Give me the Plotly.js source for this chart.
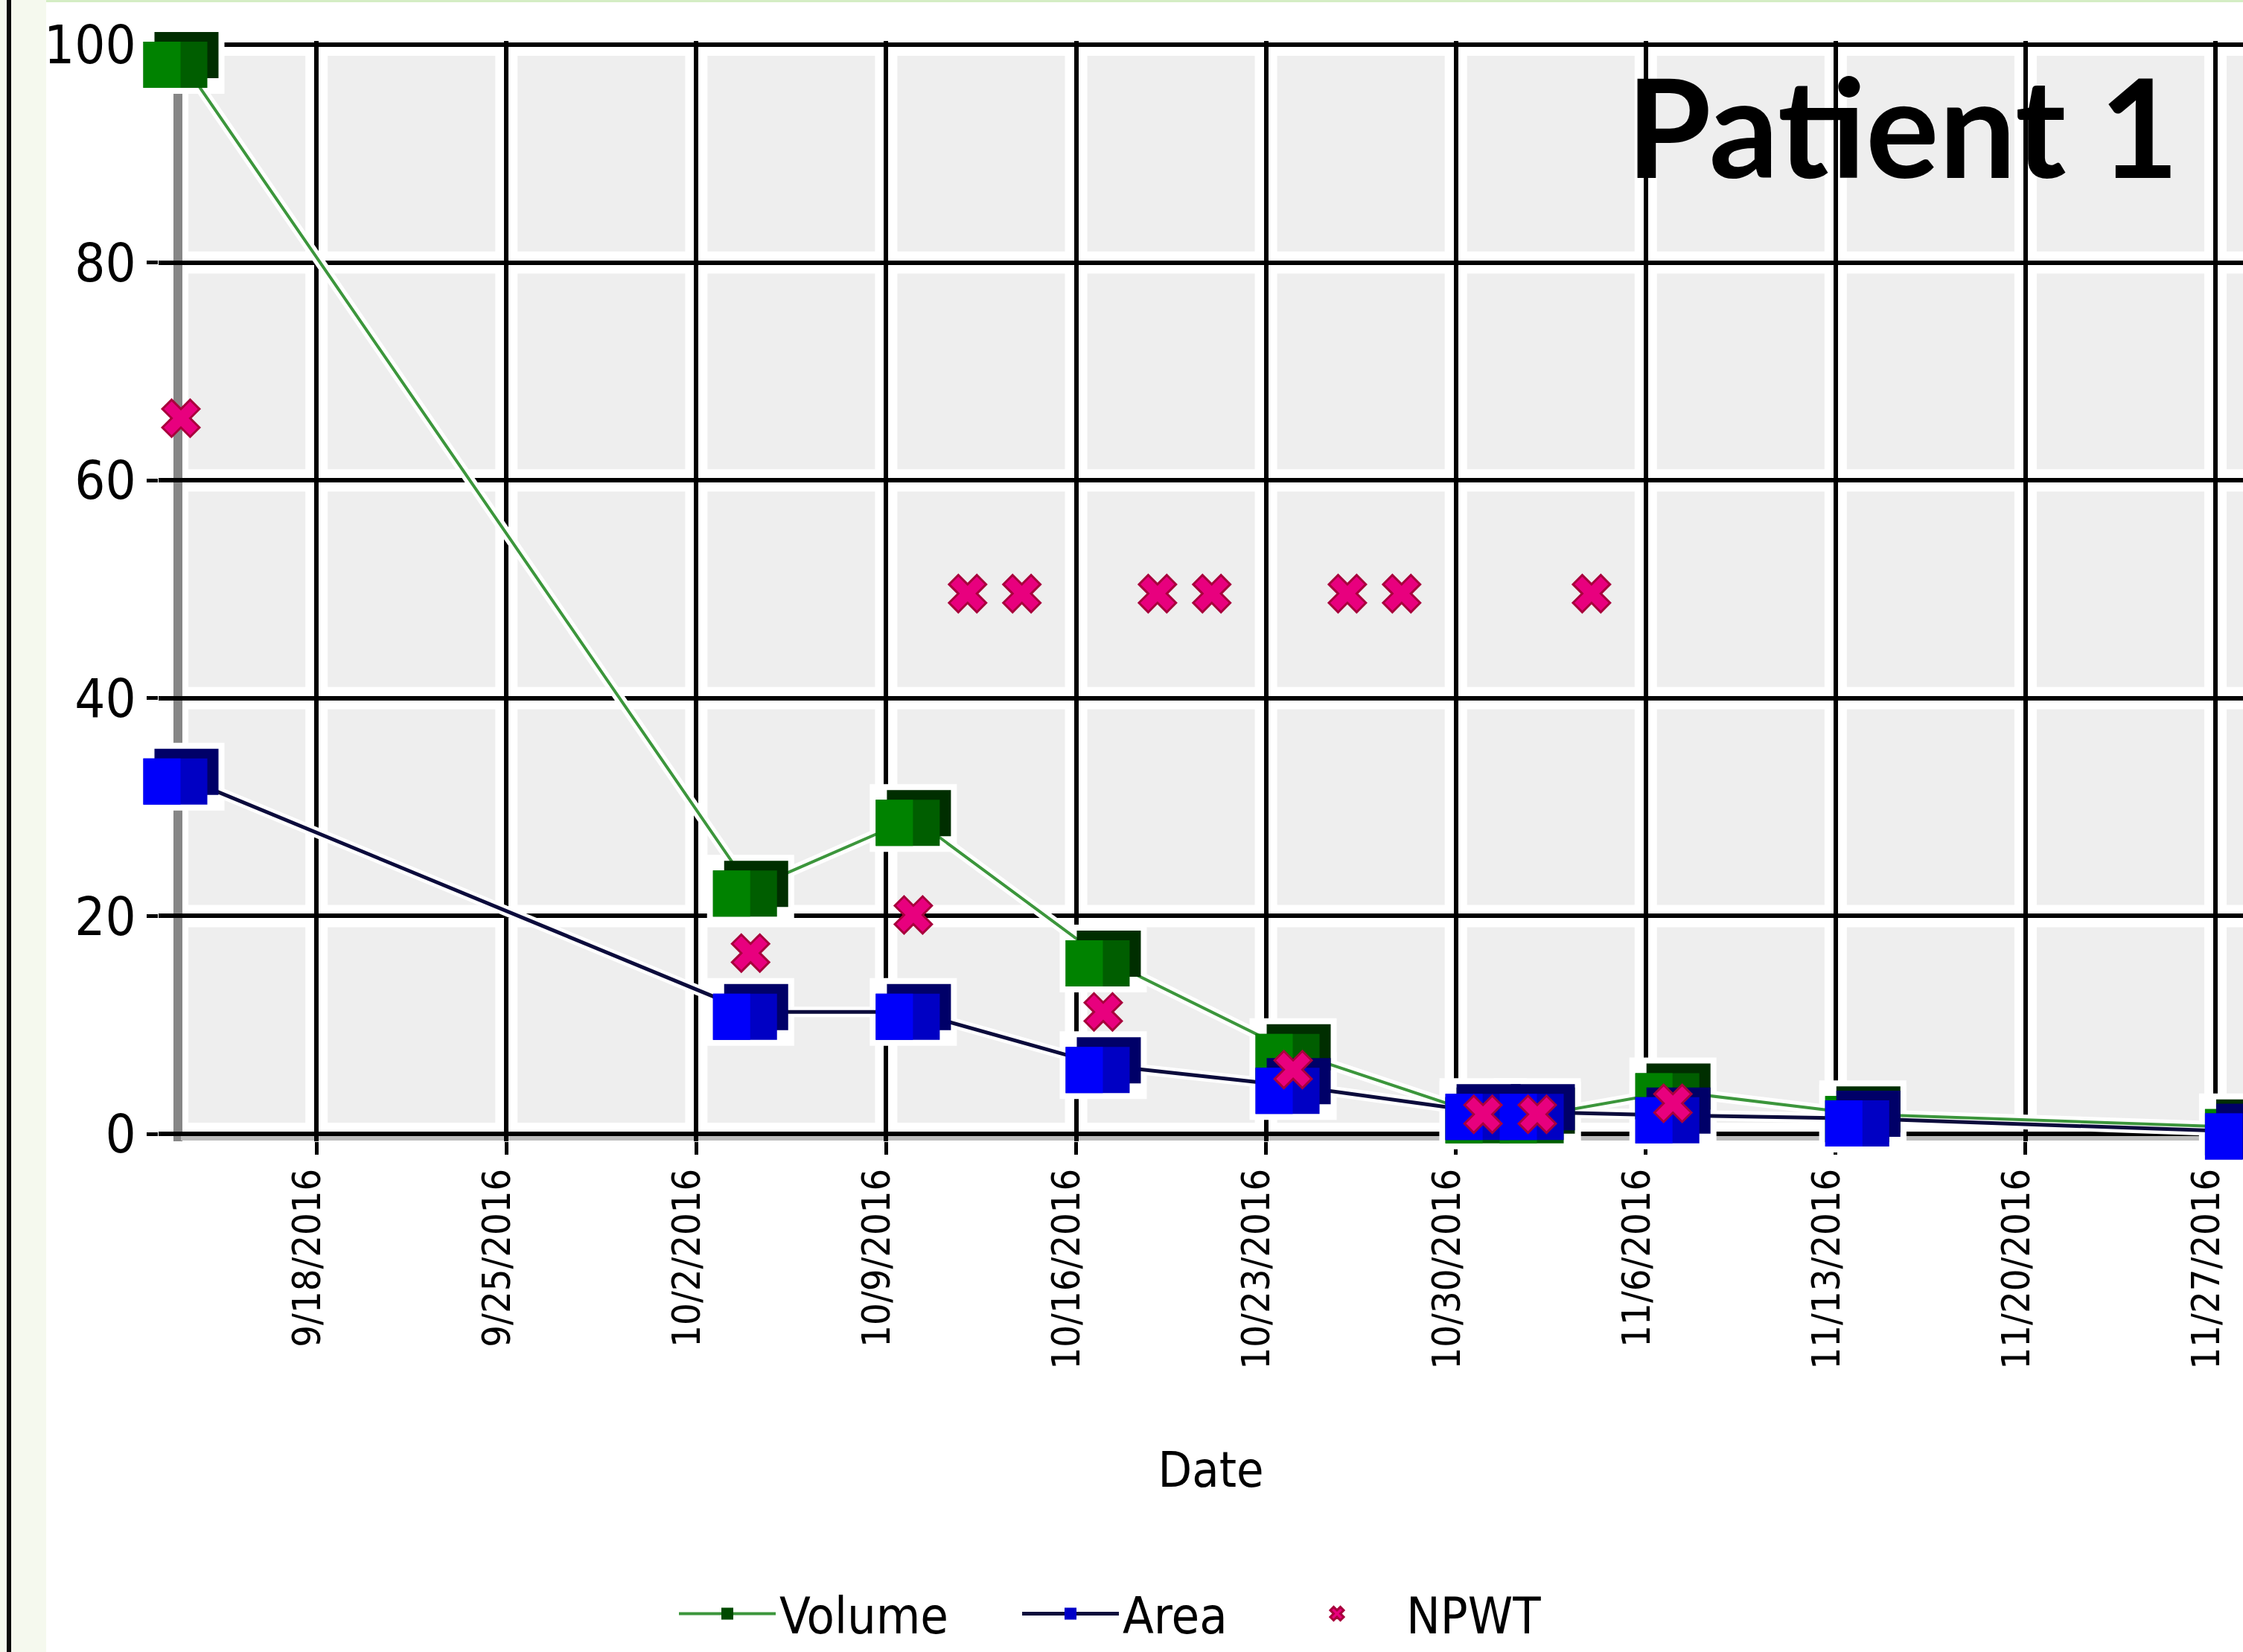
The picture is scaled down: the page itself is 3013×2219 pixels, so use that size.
<!DOCTYPE html>
<html>
<head>
<meta charset="utf-8">
<script src="https://cdn.plot.ly/plotly-3.0.1.min.js"></script>
<style>
html,body{margin:0;padding:0;background:#ffffff;overflow:hidden;width:3013px;height:2219px;}
#deco-left{position:absolute;left:0;top:0;width:62px;height:2219px;background:#F5F9EE;}
#deco-line{position:absolute;left:9px;top:0;width:6px;height:2219px;background:#0a0a0a;}
#deco-top{position:absolute;left:62px;top:0;width:2951px;height:3px;background:#D4EDC4;}
#chart{position:absolute;left:0;top:0;width:3040px;height:2219px;}
</style>
</head>
<body>
<div id="deco-left"></div><div id="deco-line"></div><div id="deco-top"></div>
<div id="chart"></div>
<script>
// ---------------- data ----------------
const measureDates = ['2016-09-13','2016-10-04','2016-10-10','2016-10-17','2016-10-24','2016-10-31','2016-11-02','2016-11-07','2016-11-14','2016-11-28'];
const volume = [98.6, 22.5, 29.0, 16.1, 7.5, 1.7, 1.7, 3.9, 1.8, 0.6];
const area   = [32.8, 11.2, 11.2, 6.3, 4.4, 2.0, 2.0, 1.7, 1.4, 0.2];
const npwtDates = ['2016-09-13','2016-10-04','2016-10-10','2016-10-12','2016-10-14','2016-10-17','2016-10-19','2016-10-21','2016-10-24','2016-10-26','2016-10-28','2016-10-31','2016-11-02','2016-11-04','2016-11-07'];
const npwt = [65.7, 16.6, 20.1, 49.6, 49.6, 11.2, 49.6, 49.6, 5.9, 49.6, 49.6, 1.8, 1.8, 49.6, 2.8];
const yTicks = [0, 20, 40, 60, 80, 100];
const seriesNames = ['Volume', 'Area', 'NPWT'];
const chartTitle = 'Patient 1';
const xTitle = 'Date';
const xAxisStartDate = '2016-09-13';
const xTickStart = '2016-09-18';

// ---------------- geometry / style ----------------
const W = 3040, H = 2219;                  // drawing is a little wider than the window: right edge is cropped like the original
const AXIS_X = 243, PAD_L = 30;            // pixel of the value axis, padding left of it
const Y_ZERO_PX = 1526, Y_TOP_PX = 60;     // pixel rows of 0 and 100
const PAD_T = 5, PAD_B = 10;
const PX_PER_DAY = 36.44;
const L = AXIS_X - PAD_L, R = W, T = Y_TOP_PX - PAD_T, B = Y_ZERO_PX + PAD_B;
const FONT = '"Liberation Sans Narrow", "DejaVu Sans Condensed", "Arial Narrow", sans-serif';
// pseudo-3D box marker: front face FW x FH, depth offset DX (right) / DY (up), bright part width BW
const FW = 86, FH = 62, DX = 15, DY = 13, BW = 50;
const LINE_EW = 1.4;                        // plotly 'line-ew' half length = 1.4 * size/2

function toMs(s){ const parts = s.split(' '); return Date.parse(parts[0] + 'T' + (parts[1] || '00:00:00') + 'Z'); }
function fmt(ms){ const d = new Date(Math.round(ms)); const p = n => String(n).padStart(2,'0');
  return d.getUTCFullYear() + '-' + p(d.getUTCMonth()+1) + '-' + p(d.getUTCDate()) + ' ' + p(d.getUTCHours()) + ':' + p(d.getUTCMinutes()) + ':' + p(d.getUTCSeconds()); }

const yLo = yTicks[0], yHi = yTicks[yTicks.length-1];
const pxPerUnit = (Y_ZERO_PX - Y_TOP_PX) / (yHi - yLo);
const pxPerMs = PX_PER_DAY / 864e5;
const msFirst = toMs(xAxisStartDate);
const msStart = msFirst - PAD_L / pxPerMs;
const msEnd = msFirst + (R - AXIS_X) / pxPerMs;
const yMin = yLo - PAD_B / pxPerUnit, yMax = yHi + PAD_T / pxPerUnit;
const WEEK = 7 * 864e5;
const px = v => (v - L) / (R - L);          // pixel column -> paper x
const py = v => (B - v) / (B - T);          // pixel row -> paper y

// ---------------- wall panels, wall edge, floor ----------------
const shapes = [];
const xb = [msFirst];
for (let t = toMs(xTickStart); t < msEnd; t += WEEK) xb.push(t);
xb.push(msEnd + WEEK);
const inset = 15, insetAxis = 10;
for (let i = 0; i < xb.length - 1; i++) {
  const x0 = xb[i] + (i === 0 ? insetAxis : inset) / pxPerMs;
  const x1 = xb[i+1] - inset / pxPerMs;
  for (let j = 0; j < yTicks.length - 1; j++) {
    shapes.push({type:'rect', xref:'x', yref:'y', layer:'below',
      x0: fmt(x0), x1: fmt(x1),
      y0: yTicks[j] + inset / pxPerUnit, y1: yTicks[j+1] - inset / pxPerUnit,
      fillcolor:'#EEEEEE', line:{width:0}});
  }
}
shapes.push({type:'line', xref:'x', yref:'y', layer:'below',
  x0: fmt(msFirst - 4 / pxPerMs), x1: fmt(msFirst - 4 / pxPerMs), y0: yMin, y1: yHi,
  line:{color:'#868686', width:12}});
shapes.push({type:'rect', xref:'x', yref:'y', layer:'below',
  x0: fmt(msFirst), x1: fmt(msEnd + WEEK), y0: -3 / pxPerUnit, y1: -9 / pxPerUnit,
  fillcolor:'#BDBDBD', line:{width:0}});

// ---------------- layout ----------------
const legendBase = {orientation: 'h', xanchor: 'left', yanchor: 'middle', y: py(2172), itemwidth: 130,
  bgcolor: 'rgba(0,0,0,0)', font: {family: FONT, size: 68, color: '#000000'}};
const layout = {
  width: W, height: H,
  margin: {l: L, r: W - R, t: T, b: H - B, pad: 0},
  paper_bgcolor: 'rgba(0,0,0,0)',
  plot_bgcolor: '#FFFFFF',
  showlegend: true,
  hovermode: false,
  font: {family: FONT, color: '#000000', size: 68},
  title: {text: chartTitle, x: px(2927), xref: 'paper', xanchor: 'right', y: 1 - 175/H, yref: 'container', yanchor: 'middle',
    font: {family: 'Lato, "Liberation Sans", sans-serif', size: 184, weight: 700, color: '#000000'}},
  xaxis: {type: 'date', range: [fmt(msStart), fmt(msEnd)], tick0: xTickStart, dtick: WEEK, tickformat: '%-m/%-d/%Y',
    tickangle: -90, tickfont: {family: FONT, size: 52, color: '#000000'},
    ticks: 'outside', ticklen: 17, tickwidth: 5, tickcolor: '#000000', ticklabelstandoff: -2, ticklabelshift: -12,
    showgrid: true, gridcolor: '#000000', gridwidth: 6,
    showline: false, zeroline: false, layer: 'below traces',
    title: {text: xTitle, font: {family: FONT, size: 66, color: '#000000'}, standoff: 112}},
  yaxis: {range: [yMin, yMax], tickvals: yTicks, ticktext: yTicks.map(String),
    tickfont: {family: FONT, size: 72, color: '#000000'},
    ticks: 'outside', ticklen: 15, tickwidth: 5, tickcolor: '#000000', ticklabelstandoff: 0,
    showgrid: true, gridcolor: '#000000', gridwidth: 6,
    showline: false, layer: 'below traces',
    zeroline: true, zerolinecolor: '#000000', zerolinewidth: 6},
  legend:  Object.assign({}, legendBase, {x: px(907)}),
  legend2: Object.assign({}, legendBase, {x: px(1368)}),
  legend3: Object.assign({}, legendBase, {x: px(1703), itemwidth: 176}),
  shapes: shapes
};

// invisible overlay axes shifted by a few pixels (dx right, dy up), used to build the 3D box markers
function overlay(n, dxPx, dyPx) {
  layout['xaxis' + n] = {type: 'date', overlaying: 'x', visible: false, showgrid: false,
    range: [fmt(msStart - dxPx / pxPerMs), fmt(msEnd - dxPx / pxPerMs)]};
  layout['yaxis' + n] = {overlaying: 'y', visible: false, showgrid: false,
    range: [yMin - dyPx / pxPerUnit, yMax - dyPx / pxPerUnit]};
}
const frontX = -DX / 2, frontY = -DY / 2;
const shifts = {
  depth:  [frontX + DX, frontY + DY],
  front:  [frontX, frontY],
  bright: [frontX - FW / 2 + BW / 2, frontY]
};
overlay(2, ...shifts.depth); overlay(3, ...shifts.front); overlay(4, ...shifts.bright);   // volume box
overlay(5, ...shifts.depth); overlay(6, ...shifts.front); overlay(7, ...shifts.bright);   // area box
overlay(8, 0, 0);                                                                        // NPWT on top

function rectMarker(width, height, color) {
  return {symbol: 'line-ew', size: width / LINE_EW, color: color, line: {color: color, width: height}};
}

// ---------------- traces ----------------
const base = {type: 'scatter', cliponaxis: false, hoverinfo: 'skip'};
const boxTraces = (ys, n0, cDepth, cFront, cBright) => [
  Object.assign({}, base, {x: measureDates, y: ys, xaxis: 'x' + n0, yaxis: 'y' + n0, mode: 'markers', showlegend: false,
    marker: rectMarker(FW, FH, cDepth)}),
  Object.assign({}, base, {x: measureDates, y: ys, xaxis: 'x' + (n0+1), yaxis: 'y' + (n0+1), mode: 'markers', showlegend: false,
    marker: rectMarker(FW, FH, cFront)}),
  Object.assign({}, base, {x: measureDates, y: ys, xaxis: 'x' + (n0+2), yaxis: 'y' + (n0+2), mode: 'markers', showlegend: false,
    marker: rectMarker(BW, FH, cBright)})
];
const halo = ys => Object.assign({}, base, {x: measureDates, y: ys, mode: 'lines+markers', showlegend: false,
    line: {color: '#FFFFFF', width: 14}, marker: rectMarker(FW + DX + 16, FH + DY + 16, '#FFFFFF')});

const traces = [
  halo(volume),
  halo(area),
  Object.assign({}, base, {x: measureDates, y: volume, name: seriesNames[0], legend: 'legend', mode: 'lines+markers',
    line: {color: '#3C963C', width: 4}, marker: {symbol: 'square', size: 20, color: '#004A00'}}),
  Object.assign({}, base, {x: measureDates, y: area, name: seriesNames[1], legend: 'legend2', mode: 'lines+markers',
    line: {color: '#0C0C3C', width: 5}, marker: {symbol: 'square', size: 20, color: '#0000C8'}}),
  ...boxTraces(volume, 2, '#002E00', '#005E00', '#008200'),
  ...boxTraces(area, 5, '#000068', '#0000C4', '#0000FA'),
  Object.assign({}, base, {x: npwtDates, y: npwt, xaxis: 'x8', yaxis: 'y8', name: seriesNames[2], legend: 'legend3', mode: 'markers',
    marker: {symbol: 'x', size: 44, color: '#E8007E', line: {color: '#A8003C', width: 3}}})
];

Plotly.newPlot('chart', traces, layout, {staticPlot: true, displayModeBar: false});
</script>
</body>
</html>
